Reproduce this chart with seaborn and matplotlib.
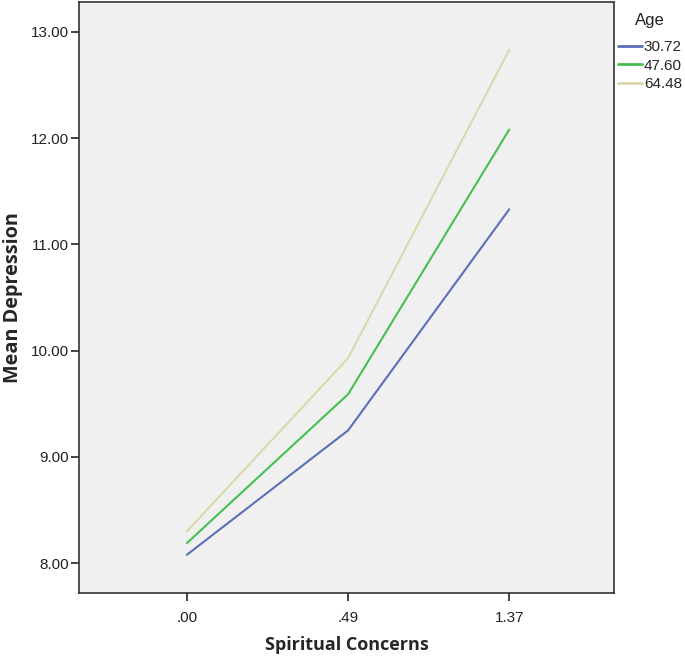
import matplotlib
matplotlib.use("Agg")
import matplotlib.pyplot as plt
import seaborn as sns
import pandas as pd
from matplotlib.lines import Line2D

spiritual = [".00", ".49", "1.37"]
ages = ["30.72", "47.60", "64.48"]
mean_dep_30 = [8.08, 9.25, 11.33]
mean_dep_47 = [8.19, 9.59, 12.08]
mean_dep_64 = [8.30, 9.93, 12.83]
colors = ["#5a6fb8", "#45c152", "#ddd8ab"]

rows = []
for age, vals in zip(ages, [mean_dep_30, mean_dep_47, mean_dep_64]):
    for s, v in zip(spiritual, vals):
        rows.append({"Spiritual Concerns": s, "Mean Depression": v, "Age": age})
df = pd.DataFrame(rows)

sns.set_style("ticks")
plt.rcParams["font.family"] = ["Liberation Sans", "DejaVu Sans"]

fig = plt.figure(figsize=(6.85, 6.56), dpi=100)
ax = fig.add_axes([79/685, 63/656, 535/685, 591/656])
ax.set_facecolor("#f0f0f0")

sns.lineplot(data=df, x="Spiritual Concerns", y="Mean Depression", hue="Age",
             palette=colors, sort=False, linewidth=1.5, ax=ax, legend=False)

ax.set_xlim(-0.67, 2.65)
ax.set_ylim(7.72, 13.28)
ax.set_yticks([8, 9, 10, 11, 12, 13])
ax.set_yticklabels(["8.00", "9.00", "10.00", "11.00", "12.00", "13.00"])
ax.set_xticks([0, 1, 2])
ax.set_xticklabels(spiritual)
ax.tick_params(axis="both", labelsize=11, color="#222222", labelcolor="#222222",
               length=6, width=1.2)
ax.tick_params(axis="y", pad=1)
ax.tick_params(axis="x", pad=7)
for sp in ax.spines.values():
    sp.set_color("#333333")
    sp.set_linewidth(1.2)

ax.set_xlabel("Spiritual Concerns", fontsize=13, fontweight="bold",
              family=["Open Sans", "DejaVu Sans"])
ax.set_ylabel("Mean Depression", fontsize=14.3, fontweight="bold",
              family=["Open Sans", "DejaVu Sans"])
ax.xaxis.set_label_coords(0.5, -0.072)
ax.yaxis.set_label_coords(-0.104, 0.5)

fig.text(650/685, 1 - 20/656, "Age", ha="center", va="center",
         fontsize=12, color="#222222")
handles = [Line2D([0], [0], color=c, lw=2) for c in colors]
leg = fig.legend(handles, ages, loc="upper right",
                 bbox_to_anchor=(1.0, 1 - 37/656), frameon=False,
                 fontsize=11, handlelength=1.6,
                 handletextpad=0.1, labelspacing=0.3, borderpad=0.0,
                 borderaxespad=0.2)

fig.savefig("out.png", dpi=100)
